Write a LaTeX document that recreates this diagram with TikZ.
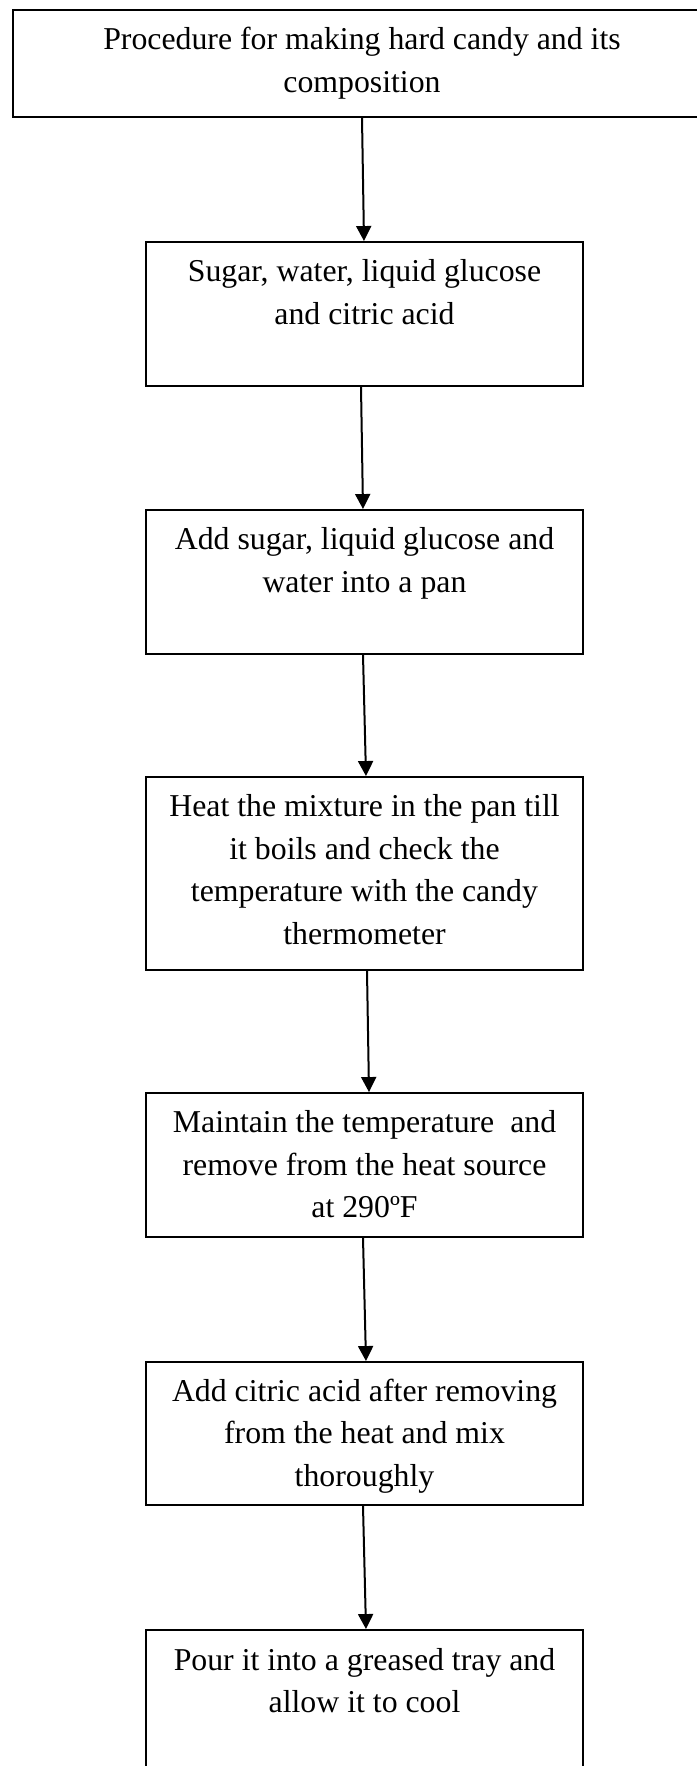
\documentclass[tikz,border=0pt]{standalone}
\usepackage{fontspec}
\setmainfont{Liberation Serif}
\usetikzlibrary{arrows.meta}
\begin{document}
\begin{tikzpicture}[x=1pt,y=-1pt,
  stepbox/.style={draw, line width=1.9pt, rectangle, inner sep=0pt, minimum width=437pt},
  label/.style={align=center, inner sep=0pt, anchor=north,
    font={\fontsize{31.8}{42.5}\selectfont}},
  flow/.style={line width=2pt, -{Triangle[length=15pt,width=15pt]}}]
\useasboundingbox (0,0) rectangle (696,1766);

% boxes of the flow chart
\node[stepbox, minimum width=698pt, minimum height=107pt] (b1) at (362,63.5) {};
\node[stepbox, minimum height=144pt] (b2) at (364.5,314) {};
\node[stepbox, minimum height=144pt] (b3) at (364.5,582) {};
\node[stepbox, minimum height=193pt] (b4) at (364.5,873.5) {};
\node[stepbox, minimum height=144pt] (b5) at (364.5,1165) {};
\node[stepbox, minimum height=143pt] (b6) at (364.5,1433.5) {};
\node[stepbox, minimum height=170pt] (b7) at (364.5,1715) {};

% box texts, first baseline about 40pt below the top edge
\node[label] (t1) at ([yshift=-10.75pt]b1.north) {\strut Procedure for making hard candy and its\\composition};
\node[label] (t2) at ([yshift=-10.75pt]b2.north) {\strut Sugar, water, liquid glucose\\and citric acid};
\node[label] (t3) at ([yshift=-10.75pt]b3.north) {\strut Add sugar, liquid glucose and\\water into a pan};
\node[label] (t4) at ([yshift=-10.75pt]b4.north) {\strut Heat the mixture in the pan till\\it boils and check the\\temperature with the candy\\thermometer};
\node[label] (t5) at ([yshift=-10.75pt]b5.north) {\strut Maintain the temperature\ \ and\\remove from the heat source\\at 290ºF};
\node[label] (t6) at ([yshift=-10.25pt]b6.north) {\strut Add citric acid after removing\\from the heat and mix\\thoroughly};
\node[label] (t7) at ([yshift=-11.25pt]b7.north) {\strut Pour it into a greased tray and\\allow it to cool};

% connectors
\draw[flow] ([xshift=0pt]b1.south) -- ([xshift=-0.5pt]b2.north);
\draw[flow] ([xshift=-3.5pt]b2.south) -- ([xshift=-1.5pt]b3.north);
\draw[flow] ([xshift=-1.5pt]b3.south) -- ([xshift=1.5pt]b4.north);
\draw[flow] ([xshift=2.5pt]b4.south) -- ([xshift=4.5pt]b5.north);
\draw[flow] ([xshift=-1.5pt]b5.south) -- ([xshift=1.5pt]b6.north);
\draw[flow] ([xshift=-1.5pt]b6.south) -- ([xshift=1.5pt]b7.north);
\end{tikzpicture}
\end{document}
